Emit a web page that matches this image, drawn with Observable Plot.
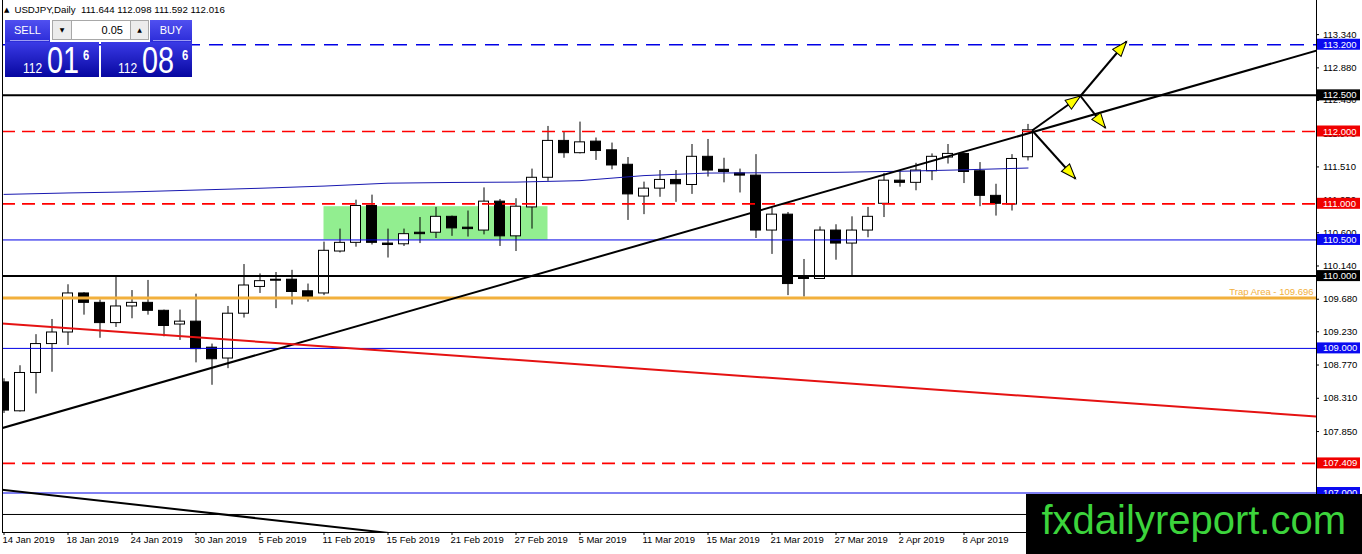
<!DOCTYPE html>
<html><head><meta charset="utf-8">
<script src="https://cdn.jsdelivr.net/npm/d3@7"></script>
<script src="https://cdn.jsdelivr.net/npm/@observablehq/plot@0.6"></script>
<style>
html,body{margin:0;padding:0;background:#fff;overflow:hidden}
#wrap{position:relative;width:1362px;height:554px;font-family:"Liberation Sans",Arial,sans-serif}
#chart svg{display:block}
#title{position:absolute;left:4px;top:5px;font-size:9.7px;line-height:9.7px;white-space:pre;color:#000}
#title .tri{font-family:"DejaVu Sans";font-size:7px;position:relative;top:-1px;margin-right:5px}
.pbtn{position:absolute;background:linear-gradient(#5050f0,#2c2cd8);color:#fff;font-size:11px;text-align:center;line-height:21px}
.sep{position:absolute;height:1px;background:#9c9cf4}
.spin{position:absolute;background:#ececec;border:1px solid #a8a8a8;box-sizing:border-box;font-family:"DejaVu Sans";font-size:6px;text-align:center;line-height:18px;color:#000}
.lot{position:absolute;background:#fff;border-top:1px solid #a8a8a8;border-bottom:1px solid #a8a8a8;box-sizing:border-box;font-size:11px;text-align:right;padding-right:7px;line-height:18px;color:#000}
.pbox{position:absolute;background:linear-gradient(#3a3ae6,#0707a0);color:#fff}
.pbox span{position:absolute;line-height:1;white-space:pre;transform-origin:0 0}
#brand{position:absolute;left:1026px;top:494px;width:336px;height:60px;background:#000}
#brand span{position:absolute;left:15.5px;top:6px;font-size:40px;line-height:40px;color:#3cd43c;white-space:pre}
</style></head><body>
<div id="wrap">
  <div id="chart"></div>
  <div id="title"></div>
  <div id="panel"></div>
  <div id="brand"><span id="brandText"></span></div>
</div>
<script>
// ---------------- data ----------------
const symbolName = "USDJPY";
const timeframe = "Daily";
const brandName = "fxdailyreport.com";
const lotSize = "0.05";
const sellPrice = 112.016;
const buyPrice = 112.086;

const dateLabels = ["14 Jan 2019","18 Jan 2019","24 Jan 2019","30 Jan 2019","5 Feb 2019","11 Feb 2019","15 Feb 2019","21 Feb 2019","27 Feb 2019","5 Mar 2019","11 Mar 2019","15 Mar 2019","21 Mar 2019","27 Mar 2019","2 Apr 2019","8 Apr 2019"];
const labelBars = [0,4,8,12,16,20,24,28,32,36,40,44,48,52,56,60];

const open  = [108.53,108.13,108.66,109.06,109.22,109.76,109.63,109.35,109.58,109.63,109.52,109.33,109.37,109.01,108.86,109.48,109.85,109.95,109.95,109.79,109.76,110.34,110.46,110.97,110.45,110.44,110.60,110.60,110.82,110.67,110.63,111.03,110.55,110.95,111.36,111.87,111.70,111.86,111.74,111.54,111.10,111.21,111.33,111.26,111.65,111.47,111.42,111.39,110.63,110.85,109.99,109.96,110.63,110.45,110.63,111.00,111.32,111.29,111.45,111.64,111.69,111.45,111.11,110.99,111.644];
const high  = [108.58,108.76,109.19,109.40,109.88,109.77,109.67,109.99,109.80,109.94,109.53,109.53,109.75,109.06,109.58,110.16,110.03,110.05,110.08,109.89,110.47,110.65,111.05,111.12,110.65,110.65,110.81,110.95,110.83,110.90,111.22,111.06,111.07,111.48,112.07,112.00,112.13,111.91,111.84,111.64,111.30,111.46,111.46,111.82,111.89,111.63,111.48,111.68,110.94,110.88,110.23,110.68,110.71,110.82,110.95,111.42,111.45,111.56,111.69,111.82,111.70,111.57,111.27,111.68,112.098];
const low   = [108.10,108.12,108.37,108.67,109.04,109.46,109.14,109.29,109.41,109.46,109.16,109.11,108.80,108.49,108.72,109.42,109.76,109.55,109.60,109.64,109.73,110.32,110.40,110.43,110.25,110.41,110.45,110.52,110.55,110.54,110.57,110.41,110.34,110.65,111.31,111.63,111.69,111.60,111.47,110.77,110.85,111.09,111.02,111.13,111.37,111.29,111.15,110.52,110.30,109.73,109.71,109.96,110.22,110.00,110.53,110.81,111.23,111.18,111.32,111.55,111.28,110.96,110.83,110.90,111.592];
const close = [108.14,108.66,109.06,109.22,109.76,109.63,109.35,109.58,109.63,109.52,109.31,109.37,108.99,108.85,109.48,109.87,109.93,109.94,109.78,109.71,110.35,110.46,110.97,110.46,110.43,110.58,110.58,110.82,110.66,110.65,111.03,110.55,110.96,111.36,111.87,111.70,111.85,111.73,111.53,111.13,111.21,111.33,111.27,111.65,111.46,111.44,111.39,110.63,110.85,109.89,109.96,110.63,110.45,110.63,110.82,111.32,111.29,111.46,111.65,111.69,111.44,111.11,111.00,111.62,112.016];

const maBars   = [0,4,8,12,16,20,24,28,32,36,40,44,48,52,56,60,64];
const maValues = [111.13,111.15,111.165,111.19,111.215,111.245,111.285,111.295,111.30,111.32,111.39,111.425,111.43,111.435,111.45,111.47,111.495];

const yTicks = [113.34,112.88,112.43,111.97,111.51,111.05,110.60,110.14,109.68,109.23,108.77,108.31,107.85,107.39,106.93];

const blueDashedLevels = [113.2];
const blackLevels = [112.5, 110.0];
const redDashedLevels = [112.0, 111.0, 107.409];
const blueLevels = [110.5, 109.0, 107.0];
const thinBlackLevels = [106.703];
const trapLevel = 109.696;
const trapLabel = "Trap Area - 109.696";

const zoneBars = [20, 34];
const zonePrices = [110.50, 110.96];

const supportLineBars = [-1, 83],   supportLinePrices = [107.842, 113.181];
const redLineBars = [-1, 83],       redLinePrices = [109.357, 108.043];
const lowerLineBars = [-1, 30],     lowerLinePrices = [107.068, 106.299];

const arrowFromBar   = [64.26, 67.28, 67.28, 64.26];
const arrowFromPrice = [112.014, 112.491, 112.491, 112.014];
const arrowToBar     = [67.28, 70.16, 68.84, 66.97];
const arrowToPrice   = [112.491, 113.245, 112.051, 111.346];

// ---------------- layout / style ----------------
const W = 1362, H = 554, ML = 2, MR = 46, MT = 0, MB = 22;
const XDOM = [-0.09375, 82.03125];
const YDOM = [106.4537, 113.8119];
const PX = (XDOM[1] - XDOM[0]) / (W - ML - MR);
const PY = (YDOM[1] - YDOM[0]) / (H - MT - MB);
const XMIN = XDOM[0], XMAX = XDOM[1], YMIN = YDOM[0];
const BLUE = "#0000e6", BLUEBOX = "#0a0af0", RED = "#ff0000", REDBOX = "#f00000", ORANGE = "#f2b03c", GREEN = "#92ee90", MA = "#1818b0";
const FONT = 9.5;

const candles = open.map((o, i) => ({i, o, h: high[i], l: low[i], c: close[i]}));
const minBody = 1 * PY;
const ma = maBars.map((b, k) => ({x: b, y: maValues[k]}));
const zone = [{x1: zoneBars[0], x2: zoneBars[1], y1: zonePrices[0], y2: zonePrices[1]}];
const trends = [
  {x1: supportLineBars[0], y1: supportLinePrices[0], x2: supportLineBars[1], y2: supportLinePrices[1], s: "#000"},
  {x1: redLineBars[0], y1: redLinePrices[0], x2: redLineBars[1], y2: redLinePrices[1], s: "#e51212"},
  {x1: lowerLineBars[0], y1: lowerLinePrices[0], x2: lowerLineBars[1], y2: lowerLinePrices[1], s: "#000"}
];

const xs = d3.scaleLinear(XDOM, [ML, W - MR]);
const ys = d3.scaleLinear(YDOM, [H - MB, MT]);
const arrows = arrowFromBar.map((b, k) => {
  const a = {x1: b, y1: arrowFromPrice[k], x2: arrowToBar[k], y2: arrowToPrice[k]};
  const dx = xs(a.x2) - xs(a.x1), dy = ys(a.y2) - ys(a.y1);
  a.angle = Math.atan2(dx, -dy) * 180 / Math.PI;
  return a;
});
const headSymbol = {draw(ctx) { ctx.moveTo(0, 0); ctx.lineTo(-5.5, 15); ctx.lineTo(5.5, 15); ctx.closePath(); }};

const boxes = [
  ...blueDashedLevels.map(v => ({v, f: BLUEBOX})),
  ...blackLevels.map(v => ({v, f: "#000"})),
  ...redDashedLevels.map(v => ({v, f: REDBOX})),
  ...blueLevels.map(v => ({v, f: BLUEBOX}))
];

const chart = Plot.plot({
  width: W, height: H,
  marginLeft: ML, marginRight: MR, marginTop: MT, marginBottom: MB,
  x: {domain: XDOM, axis: null},
  y: {domain: YDOM, axis: null},
  style: {fontFamily: "'Liberation Sans', Arial, sans-serif", fontSize: FONT + "px", background: "#fff", overflow: "visible"},
  marks: [
    Plot.rect(zone, {x1: "x1", x2: "x2", y1: "y1", y2: "y2", fill: GREEN}),
    Plot.ruleX(candles, {x: "i", y1: "l", y2: "h", stroke: "#000", strokeWidth: 1, clip: true}),
    Plot.rect(candles, {
      x1: d => d.i - 5 * PX, x2: d => d.i + 5 * PX,
      y1: d => Math.max(d.o, d.c),
      y2: d => Math.min(Math.min(d.o, d.c), Math.max(d.o, d.c) - minBody),
      fill: d => d.c >= d.o ? "#fff" : "#000", stroke: "#000", strokeWidth: 1, clip: true
    }),
    Plot.ruleY(thinBlackLevels, {stroke: "#000", strokeWidth: 1}),
    Plot.ruleY(blueLevels, {stroke: BLUE, strokeWidth: 1}),
    Plot.ruleY(blueDashedLevels, {stroke: BLUE, strokeWidth: 1.4, strokeDasharray: "14,9"}),
    Plot.ruleY(redDashedLevels, {stroke: RED, strokeWidth: 1.7, strokeDasharray: "13,7"}),
    Plot.ruleY(blackLevels, {stroke: "#000", strokeWidth: 2}),
    Plot.ruleY([trapLevel], {stroke: ORANGE, strokeWidth: 3}),
    Plot.text([trapLevel], {y: d => d, frameAnchor: "right", text: () => trapLabel, textAnchor: "end", dx: -3, dy: -6, fill: ORANGE}),
    Plot.line(ma, {x: "x", y: "y", stroke: MA, strokeWidth: 1}),
    Plot.link(trends, {x1: "x1", y1: "y1", x2: "x2", y2: "y2", stroke: "s", strokeWidth: 2, clip: true}),
    Plot.link(arrows, {x1: "x1", y1: "y1", x2: "x2", y2: "y2", stroke: "#000", strokeWidth: 2}),
    Plot.dot(arrows, {x: "x2", y: "y2", symbol: headSymbol, rotate: "angle", fill: "#ffff00", stroke: "#000", strokeWidth: 1}),
    Plot.ruleX([XMIN], {stroke: "#000"}),
    Plot.ruleX([XMAX], {stroke: "#000"}),
    Plot.ruleY([YMIN], {stroke: "#000"}),
    Plot.ruleY(yTicks, {y: d => d, x1: XMAX, x2: XMAX + 3 * PX, stroke: "#000"}),
    Plot.text(yTicks, {y: d => d, frameAnchor: "right", text: d => d.toFixed(3), textAnchor: "start", dx: 6.5, fill: "#000"}),
    Plot.rect(boxes, {x1: XMAX + 1 * PX, x2: XMAX + 44 * PX, y1: d => d.v - 5.5 * PY, y2: d => d.v + 5.5 * PY, fill: "f"}),
    Plot.text(boxes, {y: "v", frameAnchor: "right", text: d => d.v.toFixed(3), textAnchor: "start", dx: 6.5, fill: "#fff"}),
    Plot.ruleX(labelBars, {x: d => d, y1: YMIN, y2: YMIN - 3 * PY, stroke: "#000"}),
    Plot.text(labelBars, {x: d => d, frameAnchor: "bottom", text: (d, k) => dateLabels[k], textAnchor: "start", dx: -1.5, dy: 10, fill: "#000"})
  ]
});
document.getElementById("chart").appendChild(chart);

// ---------------- overlay (title, trade panel, brand) ----------------
const last = candles[candles.length - 1];
document.getElementById("title").innerHTML =
  '<span class="tri">\u25B2</span>' +
  `${symbolName},${timeframe}  ${last.o.toFixed(3)} ${last.h.toFixed(3)} ${last.l.toFixed(3)} ${last.c.toFixed(3)}`;

function priceParts(p) {
  const s = p.toFixed(3);
  const [a, b] = s.split(".");
  return {big: a, mid: b.slice(0, 2), pip: b.slice(2)};
}
const sp = priceParts(sellPrice), bp = priceParts(buyPrice);
document.getElementById("panel").innerHTML = `
  <div class="pbtn" style="left:5px;top:20px;width:45px;height:22px">SELL</div>
  <div class="sep" style="left:10px;top:40px;width:39px"></div>
  <div class="spin" style="left:52px;top:20px;width:20px;height:20px">\u25BC</div>
  <div class="lot" style="left:72px;top:20px;width:58px;height:20px">${lotSize}</div>
  <div class="spin" style="left:130px;top:20px;width:19px;height:20px">\u25B2</div>
  <div class="pbtn" style="left:150px;top:20px;width:42px;height:22px">BUY</div>
  <div class="sep" style="left:153px;top:40px;width:38px"></div>
  <div class="pbox" style="left:5px;top:42px;width:94px;height:35px">
    <span style="left:18px;top:19px;font-size:14px;transform:scaleX(0.86)">${sp.big}</span>
    <span style="left:42px;top:0.5px;font-size:36px;transform:scaleX(0.8)">${sp.mid}</span>
    <span style="left:78px;top:6px;font-size:14px;font-weight:bold;transform:scaleX(0.8)">${sp.pip}</span>
  </div>
  <div class="pbox" style="left:101px;top:42px;width:91px;height:35px">
    <span style="left:16.5px;top:19px;font-size:14px;transform:scaleX(0.86)">${bp.big}</span>
    <span style="left:40.5px;top:0.5px;font-size:36px;transform:scaleX(0.8)">${bp.mid}</span>
    <span style="left:80.5px;top:6px;font-size:14px;font-weight:bold;transform:scaleX(0.8)">${bp.pip}</span>
  </div>`;
document.getElementById("brandText").textContent = brandName;
</script>
</body></html>
